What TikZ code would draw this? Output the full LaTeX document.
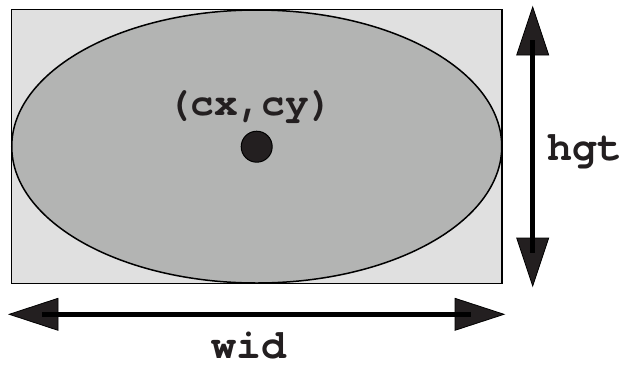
\documentclass[tikz,border=0pt]{standalone}
\usepackage{fontspec}
\setmonofont{TeX Gyre Cursor}
\definecolor{rectfill}{HTML}{E0E0E0}
\definecolor{ellfill}{HTML}{B3B4B3}
\definecolor{dotfill}{HTML}{231F20}
\begin{document}
\begin{tikzpicture}[x=1pt,y=-1pt,
  lbl/.style={font=\ttfamily\bfseries\fontsize{39.5}{40}\selectfont, text=dotfill, inner sep=0pt, anchor=base},
  biglbl/.style={lbl, font=\ttfamily\bfseries\fontsize{41.5}{42}\selectfont},
  head/.style={fill=dotfill, draw=black, line width=0.8pt, line join=miter},
  shaft/.style={line width=5.5pt, draw=black}]
\useasboundingbox (0,0) rectangle (625,365);
% box and ellipse
\draw[fill=rectfill, line width=1.5pt] (11.5,9.5) rectangle (502,283.5);
\draw[fill=ellfill, line width=1.5pt] (256.75,146.5) ellipse [x radius=245, y radius=136.5];
\node[circle, fill=dotfill, draw=black, line width=1pt, minimum size=31pt, inner sep=0pt] (c) at (256.7,146.7) {};
\node[lbl] (cxy) at (250,115) {(cx,cy)};
% vertical arrow
\coordinate (vt) at (532.7,7);
\coordinate (vb) at (532.7,286);
\filldraw[head] (vt) -- (516.7,55) -- (548.7,55) -- cycle;
\filldraw[head] (vb) -- (516.7,238) -- (548.7,238) -- cycle;
\draw[shaft] (532.7,40) -- (532.7,253);
\node[biglbl] (hgt) at (585,160) {hgt};
% horizontal arrow
\coordinate (hl) at (9.3,314.3);
\coordinate (hr) at (504,314.3);
\filldraw[head] (hl) -- (58,298.3) -- (58,330.3) -- cycle;
\filldraw[head] (hr) -- (455,298.3) -- (455,330.3) -- cycle;
\draw[shaft] (42,314.3) -- (471,314.3);
\node[biglbl] (wid) at (249,358) {wid};
\end{tikzpicture}
\end{document}
